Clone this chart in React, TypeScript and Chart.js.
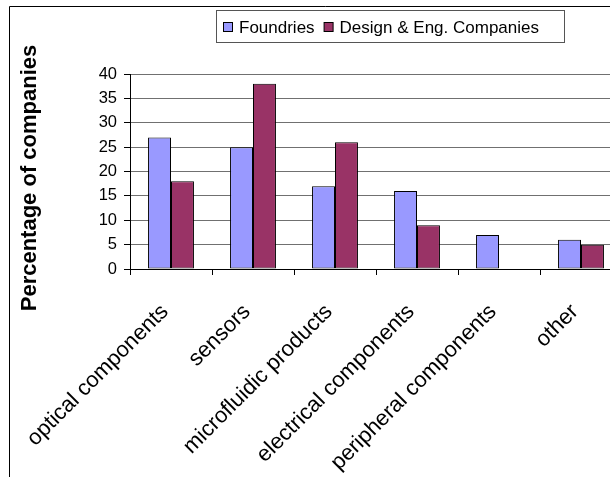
import React, { useEffect, useRef } from "react";
import { Chart, registerables } from "chart.js";

Chart.register(...registerables);

const categories = [
  "optical components",
  "sensors",
  "microfluidic products",
  "electrical components",
  "peripheral components",
  "other",
];
const foundries = [27, 25, 17, 16, 7, 6];
const designEng = [18, 38, 26, 9, 0, 5];
const seriesNames = ["Foundries", "Design & Eng. Companies"];
const yTitle = "Percentage of companies";

const FONT = "'Liberation Sans', Arial, sans-serif";
const BLUE = "#9999FF";
const RED = "#993366";

const framePlugin = {
  id: "frame",
  afterDraw(chart: any) {
    const ctx = chart.ctx;
    ctx.save();
    ctx.strokeStyle = "#000";
    ctx.lineWidth = 1;
    ctx.beginPath();
    ctx.moveTo(9.5, 2000);
    ctx.lineTo(9.5, 6.5);
    ctx.lineTo(2000, 6.5);
    ctx.stroke();

    // y axis title
    ctx.save();
    ctx.translate(36, 178);
    ctx.rotate(-Math.PI / 2);
    ctx.font = `bold 22px ${FONT}`;
    ctx.fillStyle = "#000";
    ctx.textAlign = "center";
    ctx.textBaseline = "alphabetic";
    ctx.fillText(yTitle, 0, 0);
    ctx.restore();

    // legend box
    const bx = 216.5, by = 10.5, bw = 348, bh = 32;
    ctx.fillStyle = "#fff";
    ctx.fillRect(bx, by, bw, bh);
    ctx.strokeStyle = "#555";
    ctx.strokeRect(bx, by, bw, bh);
    ctx.font = `17px ${FONT}`;
    ctx.textBaseline = "middle";
    ctx.textAlign = "left";
    const colors = [BLUE, RED];
    let x = 223;
    const cy = 27;
    seriesNames.forEach((name, i) => {
      ctx.fillStyle = colors[i];
      ctx.fillRect(x + 0.5, cy - 5 + 0.5, 9, 9);
      ctx.strokeStyle = "#000";
      ctx.strokeRect(x + 0.5, cy - 5 + 0.5, 9, 9);
      ctx.fillStyle = "#000";
      ctx.fillText(name, x + 16, cy + 1);
      x += 16 + ctx.measureText(name).width + 9;
    });
    ctx.restore();
  },
};

export default function App() {
  const ref = useRef<HTMLCanvasElement | null>(null);
  useEffect(() => {
    document.body.style.margin = "0";
    const canvas = ref.current!;
    const chart = new Chart(canvas, {
      type: "bar",
      data: {
        labels: categories,
        datasets: [
          {
            label: seriesNames[0],
            data: foundries,
            backgroundColor: BLUE,
            borderColor: "#000",
            borderWidth: 1,
            borderSkipped: false,
          },
          {
            label: seriesNames[1],
            data: designEng,
            backgroundColor: RED,
            borderColor: "#000",
            borderWidth: 1,
            borderSkipped: false,
          },
        ],
      },
      options: {
        animation: false,
        responsive: false,
        devicePixelRatio: 1,
        layout: { padding: { top: 74, left: 10, right: 18, bottom: 0 } },
        plugins: {
          legend: { display: false },
          tooltip: { enabled: false },
        },
        datasets: {
          bar: { barPercentage: 1, categoryPercentage: 0.56 },
        },
        scales: {
          x: {
            grid: {
              drawOnChartArea: false,
              drawTicks: true,
              tickLength: 6,
              tickColor: "#000",
              offset: true,
            },
            border: { color: "#000", width: 1 },
            ticks: {
              color: "#000",
              font: { family: FONT, size: 22 },
              maxRotation: 45,
              minRotation: 45,
              autoSkip: false,
              padding: 24,
              labelOffset: -6,
            },
            afterFit: (scale: any) => {
              scale.height = 477 - 269;
            },
          },
          y: {
            min: 0,
            max: 40,
            ticks: {
              stepSize: 5,
              color: "#000",
              font: { family: FONT, size: 16.5 },
              padding: 7,
            },
            grid: {
              color: "#707070",
              tickColor: "#000",
              tickLength: 6,
            },
            border: { color: "#000", width: 1 },
            title: { display: false },
            afterFit: (scale: any) => {
              scale.width = 120;
            },
          },
        },
      },
      plugins: [framePlugin],
    });
    return () => chart.destroy();
  }, []);
  return (
    <div style={{ width: 610, height: 477, overflow: "hidden", position: "relative", background: "#fff" }}>
      <canvas ref={ref} width={640} height={477} style={{ display: "block" }} />
    </div>
  );
}
